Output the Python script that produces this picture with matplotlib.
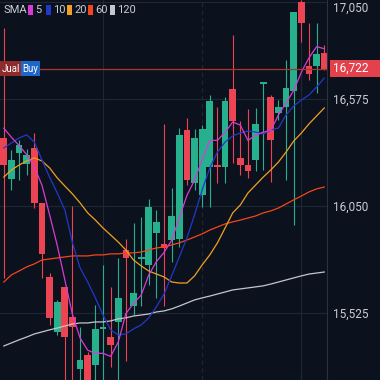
import matplotlib
matplotlib.use("Agg")
import matplotlib.pyplot as plt
from matplotlib.patches import Rectangle
import matplotlib.transforms as mtransforms
import numpy as np

# candles (price units)
opens = [16380, 16180, 16310, 16255, 16335, 16065, 15700, 15430, 15650, 15505,
         15250, 15315, 15270, 15445, 15405, 15480, 15830, 15555, 15790, 15760,
         15915, 15860, 15880, 15885, 16420, 16160, 16100, 16240, 16245, 16240,
         16620, 16285, 16250, 16275, 16647, 16585, 16505, 16535, 16610, 17050,
         16735, 16735, 16800]
closes = [16250, 16275, 16345, 16300, 16065, 15810, 15500, 15575, 15405, 15455,
          15290, 15120, 15445, 15455, 15365, 15595, 15795, 15620, 15800, 16045,
          15970, 15840, 16000, 16395, 16175, 16380, 16425, 16565, 16240, 16565,
          16465, 16250, 16220, 16450, 16650, 16370, 16535, 16625, 17000, 16945,
          16695, 16795, 16722]
highs = [16920, 16325, 16370, 16330, 16405, 16065, 15720, 15585, 15650, 16050,
         15455, 15330, 15560, 15760, 15650, 15795, 15885, 15965, 15995, 16080,
         16030, 16450, 16135, 16430, 16480, 16425, 16445, 16595, 16535, 16585,
         16885, 16465, 16525, 16530, 16650, 16595, 16570, 16765, 17000, 17059,
         16945, 16945, 16840]
lows = [15695, 16125, 16175, 16200, 16040, 15695, 15465, 15415, 15145, 15145,
        15145, 15095, 15145, 15145, 15260, 15145, 15285, 15515, 15555, 15660,
        15595, 15555, 15775, 15845, 16150, 16125, 16045, 16045, 16160, 16160,
        16260, 16200, 16185, 16220, 16225, 16165, 16470, 16175, 15955, 16855,
        16665, 16605, 16715]

sma5 = [16430, 16385, 16345, 16300, 16240, 16150, 16005, 15855, 15685, 15515,
        15400, 15340, 15325, 15325, 15310, 15380, 15520, 15570, 15610, 15710,
        15775, 15820, 15880, 15990, 16100, 16175, 16275, 16370, 16370, 16410,
        16460, 16445, 16370, 16395, 16410, 16420, 16495, 16555, 16615, 16705,
        16775, 16830, 16820]
sma10 = [16333, 16357, 16382, 16397, 16362, 16274, 16190, 16112, 16029, 15867,
         15744, 15675, 15597, 15513, 15440, 15415, 15420, 15445, 15464, 15499,
         15553, 15616, 15705, 15798, 15891, 16004, 16127, 16235, 16313, 16362,
         16392, 16406, 16416, 16411, 16401, 16421, 16431, 16495, 16539, 16568,
         16593, 16632, 16676]
sma20 = [16190, 16225, 16249, 16269, 16284, 16269, 16235, 16186, 16146, 16107,
         16063, 16014, 15979, 15940, 15906, 15871, 15832, 15783, 15754, 15729,
         15714, 15700, 15675, 15670, 15670, 15705, 15759, 15808, 15867, 15940,
         16014, 16053, 16112, 16151, 16190, 16225, 16264, 16313, 16367, 16406,
         16451, 16490, 16529]
sma60 = [15675, 15710, 15729, 15749, 15764, 15783, 15788, 15793, 15798, 15803,
         15803, 15803, 15808, 15808, 15813, 15813, 15818, 15818, 15822, 15832,
         15842, 15847, 15857, 15867, 15881, 15896, 15911, 15930, 15945, 15960,
         15970, 15979, 15989, 15999, 16014, 16024, 16038, 16058, 16078, 16097,
         16117, 16132, 16141]
sma120 = [15361, 15376, 15391, 15405, 15420, 15430, 15440, 15449, 15459, 15469,
          15474, 15474, 15479, 15479, 15484, 15494, 15499, 15508, 15513, 15518,
          15528, 15533, 15543, 15557, 15572, 15587, 15597, 15606, 15616, 15626,
          15636, 15641, 15646, 15651, 15656, 15665, 15675, 15685, 15695, 15705,
          15714, 15719, 15724]

price_ticks = [15525, 16050, 16575, 17050]
last_price = 16722
legend_names = ["5", "10", "20", "60", "120"]

BG = "#0c121d"
GRID = "#1f2733"
UP = "#26b08e"
DOWN = "#ec4452"
TXT = "#c9ccd3"
MA_COLORS = ["#d93ad6", "#2238c8", "#f0a020", "#f5451a", "#c4c6cc"]

plt.rcParams["font.family"] = ["Roboto", "DejaVu Sans"]

fig = plt.figure(figsize=(3.8, 3.8), dpi=100, facecolor=BG)
W = 327 / 380
ax = fig.add_axes([0, 0, W, 1])
ax.set_facecolor(BG)

n = len(opens)
x = np.arange(n)
o = np.array(opens)
c = np.array(closes)
up = c >= o
colors = np.where(up, UP, DOWN)

# grid
for p in price_ticks:
    ax.axhline(p, color=GRID, lw=0.8, zorder=0)
for i, ls in [(13, "-"), (26, (0, (4, 3))), (39, "-")]:
    ax.axvline(i, color=GRID, lw=0.8, ls=ls, zorder=0)

# moving averages
for vals, col in zip([sma120, sma60, sma20, sma10, sma5], MA_COLORS[::-1]):
    ax.plot(x, vals, color=col, lw=0.9, zorder=3)

# candles
ax.vlines(x, lows, highs, colors=colors, lw=0.8, zorder=2)
body_h = np.maximum(np.abs(c - o), 8)
ax.bar(x, body_h, bottom=np.minimum(o, c), width=0.88, color=colors, zorder=2.5)

# last price line
ax.axhline(last_price, color="#a8352f", lw=0.9, zorder=4)

ax.set_xlim(-0.5, 42.36)
ax.set_ylim(15194, 17059)
ax.set_xticks([])
ax.yaxis.tick_right()
ax.set_yticks(price_ticks)
ax.set_yticklabels([f"{p:,}" for p in price_ticks])
ax.tick_params(axis="y", length=0, pad=4.5, labelsize=8.5, labelcolor=TXT)
ax.get_yticklabels()[-1].set_va("top")
for s in ["top", "left", "bottom"]:
    ax.spines[s].set_visible(False)
ax.spines["right"].set_color("#2a323e")
ax.spines["right"].set_linewidth(0.8)

# price label on the scale
tr = mtransforms.blended_transform_factory(ax.transAxes, ax.transData)
ax.add_patch(Rectangle((330 / 327, last_price - 41), 50 / 327, 82, transform=tr,
                       facecolor="#e3414c", edgecolor="none", clip_on=False, zorder=5))
ax.text(333 / 327, last_price, f"{last_price:,}", transform=tr, color="white",
        fontsize=8.5, va="center", ha="left", zorder=6, clip_on=False)

# Jual / Buy tags
ax.add_patch(Rectangle((0, last_price - 38), 21 / 327, 76, transform=tr,
                       facecolor="#8e2c2c", edgecolor="none", zorder=5))
ax.add_patch(Rectangle((21 / 327, last_price - 38), 19 / 327, 76, transform=tr,
                       facecolor="#1f66c9", edgecolor="none", zorder=5))
ax.text(1.5 / 327, last_price, "Jual", transform=tr, color="white", fontsize=7,
        va="center", ha="left", zorder=6)
ax.text(22 / 327, last_price, "Buy", transform=tr, color="white", fontsize=7,
        va="center", ha="left", zorder=6)

# legend
fig.text(3 / 380, 1 - 10 / 380, "SMA", color=TXT, fontsize=8, va="center", ha="left")
lx = [28, 46, 67, 88, 110]
for name, col, px in zip(legend_names, MA_COLORS, lx):
    fig.add_artist(Rectangle((px / 380, 1 - 15 / 380), 5 / 380, 10 / 380,
                             transform=fig.transFigure, facecolor=col, edgecolor="none"))
    fig.text((px + 7) / 380, 1 - 10 / 380, name, color=TXT, fontsize=8,
             va="center", ha="left")

fig.savefig("out.png", dpi=100, facecolor=BG)
